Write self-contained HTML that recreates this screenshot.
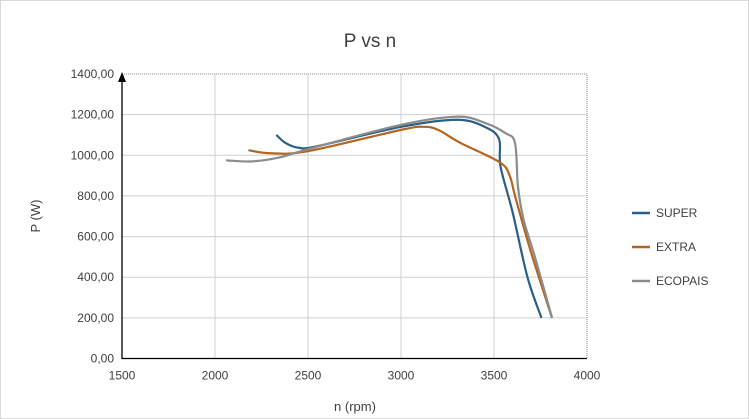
<!DOCTYPE html>
<html><head><meta charset="utf-8"><style>
body{margin:0;background:#fff;font-family:"Liberation Sans",sans-serif}
svg{display:block}
</style></head><body>
<svg width="749" height="419" viewBox="0 0 749 419" id="chart">
<rect x="0.5" y="0.5" width="748" height="418" fill="#fff" stroke="#d9d9d9"/>
<text x="370" y="47" font-size="19" text-anchor="middle" fill="#404040">P vs n</text>
<g id="grid"></g><g id="ticks"></g><g id="series"></g>
<text x="355" y="411" font-size="13" text-anchor="middle" fill="#404040">n (rpm)</text>
<text x="40" y="216" font-size="13" text-anchor="middle" fill="#404040" transform="rotate(-90 40 216)">P (W)</text>
<g id="legend"></g>
</svg>
<script>
const xTicks=[1500,2000,2500,3000,3500,4000];
const yTicks=[0,200,400,600,800,1000,1200,1400];
const yLabels=["0,00","200,00","400,00","600,00","800,00","1000,00","1200,00","1400,00"];
const seriesNames=["SUPER","EXTRA","ECOPAIS"];
const superX=[2330,2380,2450,2550,3000,3300,3450,3527,3535,3600,3680,3755];
const superY=[1100,1060,1037,1045,1140,1175,1140,1080,945,720,400,200];
const extraX=[2180,2300,2500,3000,3120,3200,3317,3532,3586,3613,3700,3812];
const extraY=[1025,1010,1020,1125,1140,1125,1062,965,895,800,520,200];
const ecoX=[2060,2200,2350,2500,3000,3301,3450,3560,3613,3629,3660,3720,3812];
const ecoY=[975,970,990,1030,1150,1190,1160,1110,1060,845,680,500,200];
const colors=["#2a5f86","#b5651d","#8c8c8c"];
const X0=122,X1=587,Y0=358.5,Y1=74;
const sx=v=>X0+(v-1500)/2500*(X1-X0);
const sy=v=>Y0-v/1400*(Y0-Y1);
const NS="http://www.w3.org/2000/svg";
function mk(t,a,p){const e=document.createElementNS(NS,t);for(const k in a)e.setAttribute(k,a[k]);p.appendChild(e);return e;}
const grid=document.getElementById('grid'),ticks=document.getElementById('ticks');
yTicks.forEach((v,i)=>{
 if(v>0&&v<1400){const l=mk('line',{x1:X0,x2:X1,y1:sy(v),y2:sy(v),stroke:'#d0d0d0'},grid);
 
 }
 const t=mk('text',{x:X0-8,y:sy(v)+4,'font-size':12,'text-anchor':'end',fill:'#404040'},ticks);t.textContent=yLabels[i];
 
 
});
xTicks.forEach(v=>{
 if(v>1500&&v<4000){const l=mk('line',{x1:sx(v),x2:sx(v),y1:Y1,y2:Y0,stroke:'#d0d0d0'},grid);
 
 }
 const t=mk('text',{x:sx(v),y:Y0+21,'font-size':12,'text-anchor':'middle',fill:'#404040'},ticks);t.textContent=v;
 
 
});
const b=mk('path',{d:`M${X0} ${Y1}H${X1}V${Y0}`,fill:'none',stroke:'#888','stroke-dasharray':'1 1'},grid);


const ax=mk('path',{d:`M${X0} ${Y1}V${Y0}H${X1}`,fill:'none',stroke:'#000','stroke-width':1.3},grid);


const ar=mk('path',{d:`M${X0-4} ${Y1+8}L${X0} ${Y1-2}L${X0+4} ${Y1+8}Z`,fill:'#000'},grid);


function smooth(xs,ys){const p=xs.map((x,i)=>[sx(x),sy(ys[i])]);let d=`M${p[0][0]} ${p[0][1]}`;
 for(let i=0;i<p.length-1;i++){const a=p[i-1]||p[i],b=p[i],c=p[i+1],e=p[i+2]||c;
 d+=`C${b[0]+(c[0]-a[0])/6} ${b[1]+(c[1]-a[1])/6} ${c[0]-(e[0]-b[0])/6} ${c[1]-(e[1]-b[1])/6} ${c[0]} ${c[1]}`;}return d;}
const ser=document.getElementById('series'),leg=document.getElementById('legend');
[[superX,superY],[extraX,extraY],[ecoX,ecoY]].forEach((s,i)=>{
 const p=mk('path',{d:smooth(s[0],s[1]),fill:'none',stroke:colors[i],'stroke-width':2.2},ser);
 
 
 const y=213+i*34;
 const g=mk('g',{},leg);
 
 
 mk('line',{x1:632,x2:650,y1:y,y2:y,stroke:colors[i],'stroke-width':2.5},g);
 const t=mk('text',{x:656,y:y+4,'font-size':12,fill:'#404040'},g);t.textContent=seriesNames[i];
});
</script>
</body></html>
